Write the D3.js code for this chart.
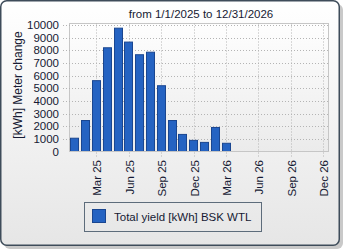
<!DOCTYPE html>
<html>
<head>
<meta charset="utf-8">
<script src="https://cdn.jsdelivr.net/npm/d3@7"></script>
<style>
  body { margin: 0; background: #ffffff; }
  svg { display: block; }
  text { font-family: "Liberation Sans", Arial, sans-serif; fill: #161a33; }
</style>
</head>
<body>
<svg width="345" height="250"></svg>
<script>
var months = ['Jan 25','Feb 25','Mar 25','Apr 25','May 25','Jun 25','Jul 25','Aug 25','Sep 25','Oct 25','Nov 25','Dec 25',
              'Jan 26','Feb 26','Mar 26','Apr 26','May 26','Jun 26','Jul 26','Aug 26','Sep 26','Oct 26','Nov 26','Dec 26'];
var yieldValues = [1050, 2450, 5600, 8200, 9750, 8650, 7650, 7850, 5200, 2450, 1350, 880, 720, 1900, 650];
var xTickLabels = ['Mar 25','Jun 25','Sep 25','Dec 25','Mar 26','Jun 26','Sep 26','Dec 26'];
var yTicks = [0, 1000, 2000, 3000, 4000, 5000, 6000, 7000, 8000, 9000, 10000];
var titleText = 'from 1/1/2025 to 12/31/2026';
var yTitle = '[kWh] Meter change';
var seriesName = 'Total yield [kWh] BSK WTL';

var svg = d3.select('svg');
var defs = svg.append('defs');

var bgGrad = defs.append('linearGradient').attr('id', 'bgGrad')
  .attr('x1', 0).attr('y1', 0).attr('x2', 0).attr('y2', 1);
bgGrad.append('stop').attr('offset', '0%').attr('stop-color', '#ffffff');
bgGrad.append('stop').attr('offset', '100%').attr('stop-color', '#e6e6e6');

var plotGrad = defs.append('linearGradient').attr('id', 'plotGrad')
  .attr('x1', 0).attr('y1', 0).attr('x2', 0).attr('y2', 1);
plotGrad.append('stop').attr('offset', '0%').attr('stop-color', '#fefefe');
plotGrad.append('stop').attr('offset', '100%').attr('stop-color', '#ebebeb');

// panel shadow + panel
svg.append('rect')
  .attr('x', 4).attr('y', 4).attr('width', 339).attr('height', 245)
  .attr('rx', 6).attr('fill', '#c9c9c9');
svg.append('rect')
  .attr('x', 0.75).attr('y', 0.75).attr('width', 338.5).attr('height', 244.5)
  .attr('rx', 6).attr('fill', 'url(#bgGrad)')
  .attr('stroke', '#3e4c5a').attr('stroke-width', 1.5);

var plotLeft = 69.5, plotRight = 328.5, plotTop = 23.5, plotBottom = 151.5;

var x = d3.scaleBand().domain(months).range([plotLeft, plotRight]).paddingInner(0.19).paddingOuter(0.09);
var y = d3.scaleLinear().domain([0, 10000]).range([plotBottom, 25]);

svg.append('rect')
  .attr('x', plotLeft).attr('y', plotTop)
  .attr('width', plotRight - plotLeft).attr('height', plotBottom - plotTop)
  .attr('fill', 'url(#plotGrad)').attr('stroke', '#c6c6c6');

function cx(m) { return Math.round(x(m) + x.bandwidth() / 2) + 0.5; }

// horizontal grid
svg.append('g').selectAll('line').data(yTicks.filter(function (d) { return d > 0; }))
  .enter().append('line')
  .attr('x1', 63).attr('x2', plotRight)
  .attr('y1', function (d) { return Math.round(y(d)) + 0.5; })
  .attr('y2', function (d) { return Math.round(y(d)) + 0.5; })
  .attr('stroke', '#b4b4b4').attr('stroke-dasharray', '1,2');

// vertical grid
svg.append('g').selectAll('line').data(xTickLabels)
  .enter().append('line')
  .attr('x1', cx).attr('x2', cx)
  .attr('y1', plotTop).attr('y2', plotBottom + 6)
  .attr('stroke', '#b4b4b4').attr('stroke-dasharray', '1,2');

// bars
svg.append('g').selectAll('rect').data(yieldValues)
  .enter().append('rect')
  .attr('x', function (d, i) { return Math.round(x(months[i])) + 0.5; })
  .attr('y', function (d) { return y(d); })
  .attr('width', Math.round(x.bandwidth()) - 1)
  .attr('height', function (d) { return plotBottom - y(d); })
  .attr('fill', '#2563c2')
  .attr('stroke', '#1a4690').attr('stroke-width', 1);

// bottom axis line
svg.append('line')
  .attr('x1', plotLeft).attr('x2', plotRight)
  .attr('y1', plotBottom).attr('y2', plotBottom)
  .attr('stroke', '#c6c6c6');

// y tick labels
svg.append('g').selectAll('text').data(yTicks)
  .enter().append('text')
  .attr('x', 59)
  .attr('y', function (d) { return y(d); })
  .attr('dy', '0.36em')
  .attr('text-anchor', 'end')
  .attr('font-size', 11.5)
  .text(function (d) { return d; });

// x tick labels
svg.append('g').selectAll('text').data(xTickLabels)
  .enter().append('text')
  .attr('transform', function (d) { return 'translate(' + (cx(d) + 0.5) + ',160) rotate(-90)'; })
  .attr('dy', '0.36em')
  .attr('text-anchor', 'end')
  .attr('font-size', 11.5)
  .text(function (d) { return d; });

// title
svg.append('text')
  .attr('x', 201).attr('y', 18)
  .attr('text-anchor', 'middle')
  .attr('font-size', 11.5)
  .text(titleText);

// y title
svg.append('text')
  .attr('transform', 'translate(18,85) rotate(-90)')
  .attr('dy', '0.36em')
  .attr('text-anchor', 'middle')
  .attr('font-size', 12)
  .text(yTitle);

// legend
svg.append('rect')
  .attr('x', 84.5).attr('y', 202.5).attr('width', 177).attr('height', 29)
  .attr('fill', 'none').attr('stroke', '#5d6c7b');
svg.append('rect')
  .attr('x', 92.5).attr('y', 209.5).attr('width', 13).attr('height', 13)
  .attr('fill', '#2563c2').attr('stroke', '#1a4690');
svg.append('text')
  .attr('x', 114).attr('y', 220.5)
  .attr('font-size', 11.5)
  .text(seriesName);
</script>
</body>
</html>
